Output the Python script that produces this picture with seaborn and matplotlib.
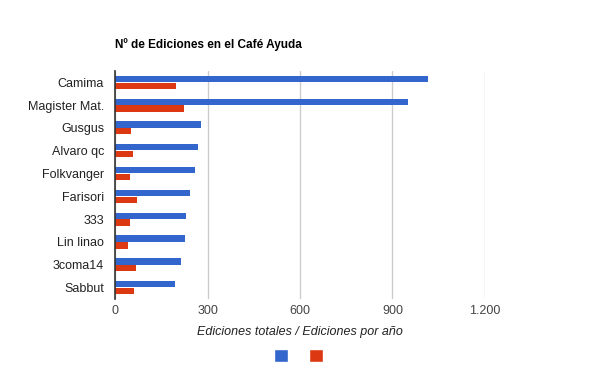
import matplotlib.pyplot as plt
import pandas as pd
import seaborn as sns
from matplotlib.ticker import FuncFormatter
from matplotlib.patches import Patch

# Data
usuarios = ['Camima', 'Magister Mat.', 'Gusgus', 'Alvaro qc', 'Folkvanger',
            'Farisori', '333', 'Lin linao', '3coma14', 'Sabbut']
ediciones_totales = [1015, 950, 277, 268, 258, 242, 229, 226, 213, 193]
ediciones_por_anio = [196, 222, 51, 57, 48, 70, 48, 41, 67, 60]
series = ['Ediciones totales', 'Ediciones por año']
colores = ['#3366cc', '#dc3912']
xticks = [0, 300, 600, 900, 1200]

df = pd.DataFrame({
    'usuario': usuarios * 2,
    'valor': ediciones_totales + ediciones_por_anio,
    'serie': [series[0]] * len(usuarios) + [series[1]] * len(usuarios),
})

sns.set_style('white')
plt.rcParams['font.family'] = ['Liberation Sans', 'DejaVu Sans']

fig = plt.figure(figsize=(6, 3.71), dpi=100)
ax = fig.add_axes([0.192, 0.194, 0.616, 0.615])

sns.barplot(data=df, y='usuario', x='valor', hue='serie', palette=colores,
            orient='h', width=0.6, gap=0.08, ax=ax, legend=False, saturation=1,
            linewidth=0)

ax.set_xlim(0, 1200)
ax.set_ylim(9.5, -0.5)
ax.set_xticks(xticks)
ax.xaxis.set_major_formatter(FuncFormatter(lambda v, p: f'{int(v):,}'.replace(',', '.')))
ax.grid(axis='x', color='#cccccc', linewidth=1)
ax.set_axisbelow(True)
for s in ['top', 'right', 'bottom']:
    ax.spines[s].set_visible(False)
ax.spines['left'].set_color('#333333')
ax.spines['left'].set_linewidth(1.2)
ax.tick_params(axis='both', length=0, labelsize=9, colors='#222222', pad=8)
ax.tick_params(axis='x', colors='#444444', pad=4)
ax.set_ylabel('')
ax.set_xlabel('Ediciones totales / Ediciones por año', fontsize=9, style='italic',
              color='#222222', labelpad=7)

fig.text(0.192, 0.87, 'Nº de Ediciones en el Café Ayuda', fontsize=8.5,
         fontweight='bold', color='#000000')

handles = [Patch(facecolor=c) for c in colores]
fig.legend(handles, ['', ''], loc='center', bbox_to_anchor=(0.497, 0.04), ncol=2,
           frameon=False, handlelength=1.0, handleheight=1.0, handletextpad=0,
           columnspacing=1.5)

fig.savefig('out.png', dpi=100)
